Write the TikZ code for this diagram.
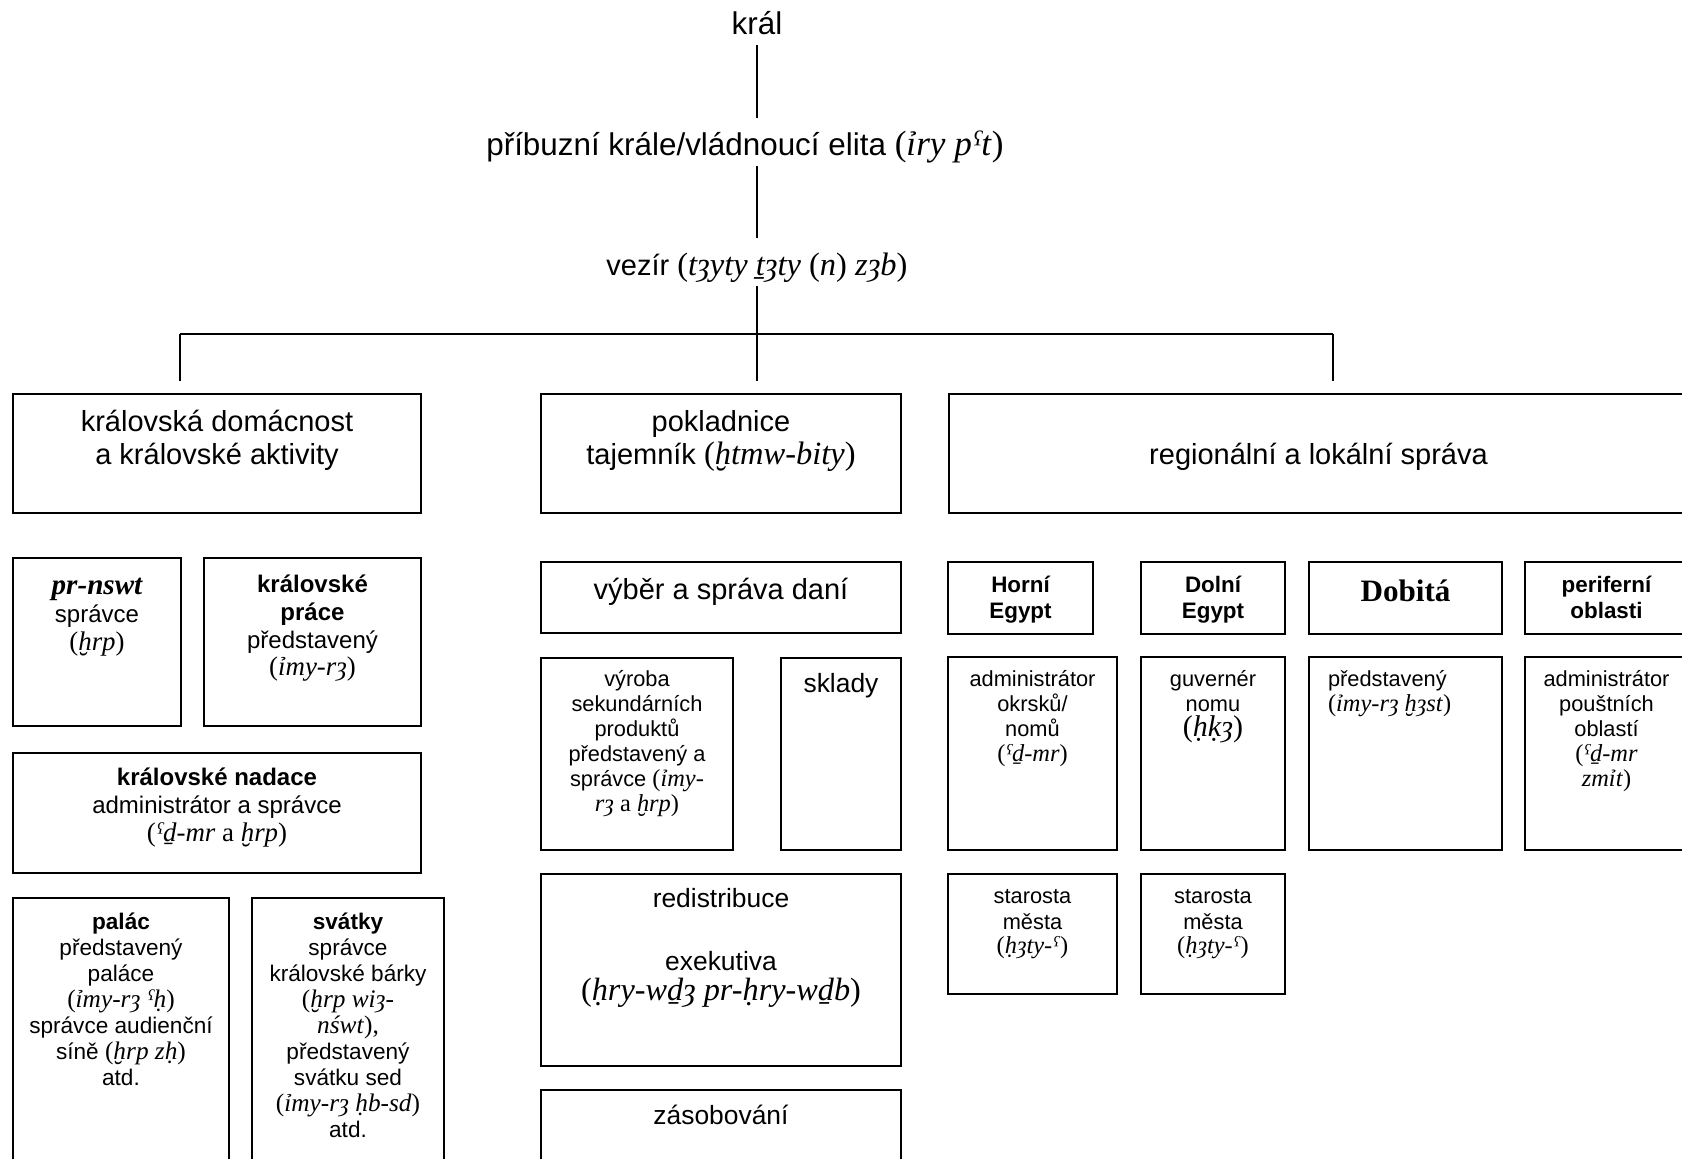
\documentclass[tikz,border=0pt]{standalone}
\usepackage{fontspec}
\setmainfont{Liberation Sans}
\newfontfamily\trfont[Scale=1.12]{Liberation Serif}
\usetikzlibrary{calc}

\newdimen\pxu \pxu=0.5pt
\newcommand{\trl}[1]{{\trfont #1}}
\newcommand{\sizeT}{\fontsize{15.7}{18}\selectfont}
\newcommand{\sizeL}{\fontsize{14.5}{16.7}\selectfont}
\newcommand{\sizeM}{\fontsize{13.2}{15.2}\selectfont}
\newcommand{\sizeB}{\fontsize{12}{13.8}\selectfont}
\newcommand{\sizeP}{\fontsize{11.3}{13}\selectfont}
\newcommand{\sizeH}{\fontsize{11.2}{12.85}\selectfont}
\newcommand{\sizeS}{\fontsize{10.9}{12.5}\selectfont}
% fixed-size cell: width, height, first baseline, text
\newcommand{\cellin}[4]{\parbox[c][#2\pxu][t]{#1\pxu}{\centering\rule{0pt}{#3\pxu}#4\par}}

\tikzset{
  cell/.style={draw,line width=0.9pt,anchor=north west,inner sep=0pt,outer sep=0pt},
  head/.style={font=\sizeL,inner sep=0pt,outer sep=2.25pt,text height=10.5pt,text depth=3pt},
  link/.style={line width=1pt}
}

\begin{document}
\begin{tikzpicture}[x=0.5pt,y=-0.5pt]
  \useasboundingbox (0,0) rectangle (1682,1159);
  \clip (0,0) rectangle (1682,1159);
  % top chain
  \node[head,font=\sizeT] (kral) at (757,27) {král};
  \node[head,font=\sizeT] (elita) at (745,148) {příbuzní krále/vládnoucí elita \trl{(\textit{ỉry pˤt})}};
  \node[head] (vezir) at (757,268) {vezír \trl{(\textit{tȝyty ṯȝty} (\textit{n}) \textit{zȝb})}};
  % three branches
  \node[cell] (hd) at (13,394) {\cellin{408}{119}{37.6}{\sizeL královská domácnost\\ a královské aktivity}};
  \node[cell] (pok) at (541,394) {\cellin{360}{119}{37.6}{\sizeL pokladnice\\ tajemník \trl{(\textit{ḫtmw-bity})}}};
  \node[cell] (reg) at (949,394) {\cellin{739}{119}{70.6}{\sizeL regionální a lokální správa}};
  \draw[link] (kral.south) -- ($(kral.south |- elita.north)+(0,-12)$);
  \draw[link] (elita.south -| kral.south) -- ($(kral.south |- vezir.north)+(0,-12)$);
  \draw[link] (vezir.south) -- ($(vezir.south |- pok.north)+(0,-13)$);
  \coordinate (barL) at (180,334);
  \coordinate (barR) at (1333,334);
  \draw[link] (barL) -- (barR);
  \draw[link] (barL) -- ($(barL |- hd.north)+(0,-13)$);
  \draw[link] (barR) -- ($(barR |- reg.north)+(0,-13)$);
  % royal household
  \node[cell] (nswt) at (13,558) {\cellin{168}{168}{37}{\sizeB{\trfont\fontsize{13}{14}\selectfont\bfseries\itshape pr-nswt}\\ správce\\ \trl{(\textit{ḫrp})}}};
  \node[cell] (prace) at (204,558) {\cellin{217}{168}{35}{\sizeB\textbf{královské}\\ \textbf{práce}\\ představený\\ \trl{(\textit{ỉmy-rȝ})}}};
  \node[cell] (nadace) at (13,753) {\cellin{408}{120}{33}{\sizeB\textbf{královské nadace}\\ administrátor a správce\\ \trl{(\textit{ˤḏ-mr} a \textit{ḫrp})}}};
  \node[cell] (palac) at (13,898) {\cellin{216}{277}{31.5}{\sizeP\textbf{palác}\\ představený\\ paláce\\ \trl{(\textit{ỉmy-rȝ ˤḥ})}\\ správce audienční\\ síně \trl{(\textit{ḫrp zḥ})}\\ atd.}};
  \node[cell] (svatky) at (252,898) {\cellin{192}{277}{31.5}{\sizeP\textbf{svátky}\\ správce\\ královské bárky\\ \trl{(\textit{ḫrp wiȝ-}}\\ \trl{\textit{nśwt}),}\\ představený\\ svátku sed\\ \trl{(\textit{ỉmy-rȝ ḥb-sd})}\\ atd.}};
  % treasury
  \node[cell] (dane) at (541,562) {\cellin{360}{71}{37.6}{\sizeL výběr a správa daní}};
  \node[cell] (vyroba) at (541,658) {\cellin{192}{192}{29}{\sizeS výroba\\ sekundárních\\ produktů\\ představený a\\ správce \trl{(\textit{ỉmy}-}\\ \trl{\textit{rȝ} a \textit{ḫrp})}}};
  \node[cell] (sklady) at (781,658) {\cellin{120}{192}{34.7}{\sizeM sklady}};
  \node[cell] (redis) at (541,874) {\cellin{360}{192}{33.7}{\sizeM redistribuce\\[16pt] exekutiva\\ {\trfont\fontsize{14.4}{16}\selectfont(\textit{ḥry-wḏȝ pr-ḥry-wḏb})}}};
  \node[cell] (zasob) at (541,1090) {\cellin{360}{85}{34.7}{\sizeM zásobování}};
  % regions
  \node[cell] (horni) at (948,562) {\cellin{145}{72}{30.4}{\sizeH\bfseries Horní\\ Egypt}};
  \node[cell] (dolni) at (1141,562) {\cellin{144}{72}{30.4}{\sizeH\bfseries Dolní\\ Egypt}};
  \node[cell] (dobyta) at (1309,562) {\cellin{193}{72}{40}{{\trfont\fontsize{13.9}{16}\selectfont\bfseries Dobitá}}};
  \node[cell] (perif) at (1525,562) {\cellin{163}{72}{30.4}{\sizeH\bfseries periferní\\ oblasti}};
  \node[cell] (okrsky) at (948,657) {\cellin{169}{193}{30}{\sizeS administrátor\\ okrsků/\\ nomů\\ \trl{(\textit{ˤḏ-mr})}}};
  \node[cell] (nomos) at (1141,657) {\cellin{144}{193}{30}{\sizeS guvernér\\ nomu\\ {\trfont\fontsize{13.4}{16}\selectfont(\textit{ḥḳȝ})}}};
  \node[cell] (chast) at (1309,657) {\cellin{193}{193}{30}{\sizeS\raggedright\leftskip=19\pxu představený\\ \trl{(\textit{ỉmy-rȝ ḫȝst})}}};
  \node[cell] (poust) at (1525,657) {\cellin{163}{193}{30}{\sizeS administrátor\\ pouštních\\ oblastí\\ \trl{(\textit{ˤḏ-mr}}\\ \trl{\textit{zmỉt})}}};
  \node[cell] (star1) at (948,874) {\cellin{169}{120}{30}{\sizeS starosta\\ města\\ \trl{(\textit{ḥȝty-ˤ})}}};
  \node[cell] (star2) at (1141,874) {\cellin{144}{120}{30}{\sizeS starosta\\ města\\ \trl{(\textit{ḥȝty-ˤ})}}};
\end{tikzpicture}
\end{document}
